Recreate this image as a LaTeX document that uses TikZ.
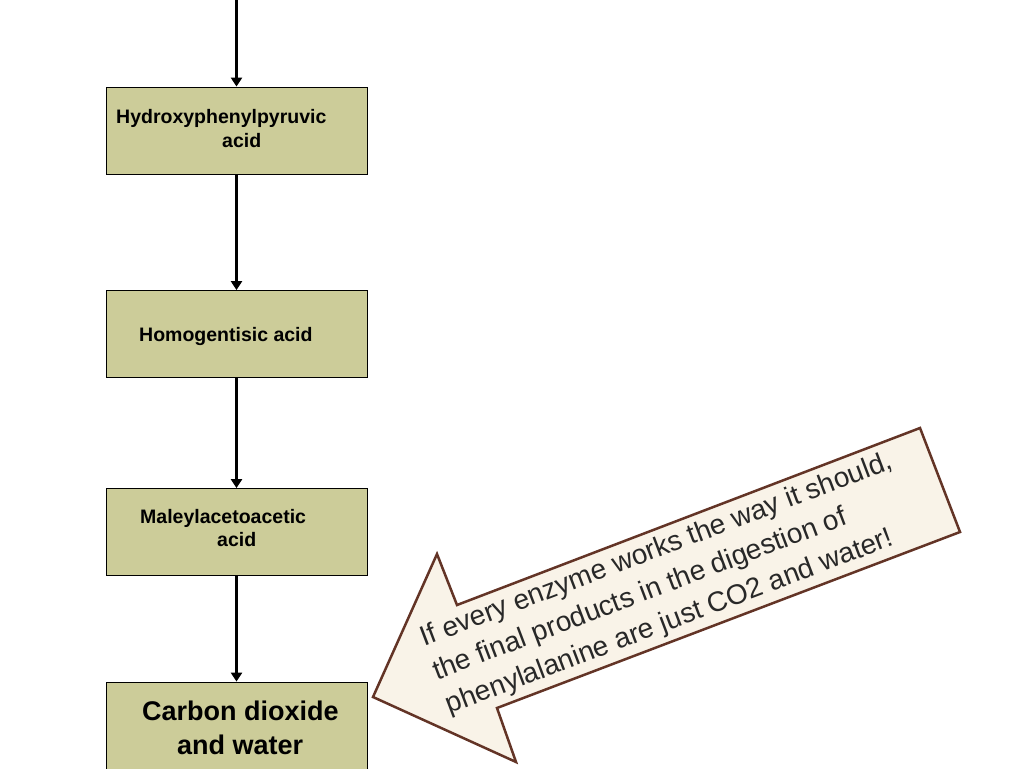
\documentclass[tikz,border=0pt]{standalone}
\usepackage{fontspec}
\setmainfont{Liberation Sans}
\usetikzlibrary{arrows.meta}
\definecolor{boxfill}{RGB}{204,204,153}
\definecolor{callfill}{RGB}{249,243,232}
\definecolor{callline}{RGB}{99,52,38}
\definecolor{calltext}{RGB}{40,40,40}
\begin{document}
\begin{tikzpicture}[x=1pt,y=-1pt,
  stepbox/.style={draw=black, line width=0.8pt, fill=boxfill, minimum width=261pt, minimum height=87pt, inner sep=0pt},
  lbl/.style={font=\bfseries\fontsize{19.5}{23}\selectfont, anchor=base west, inner sep=0pt},
  big/.style={font=\bfseries\fontsize{27}{32}\selectfont, anchor=base west, inner sep=0pt},
  flow/.style={line width=3.2pt, -{Triangle[length=9pt,width=11pt]}},
  callout/.style={draw=callline, fill=callfill, line width=2.5pt, line join=miter},
  notetext/.style={font=\fontsize{28}{36}\selectfont, text=calltext, align=left, rotate=20.8, anchor=west, inner sep=0pt}]
\useasboundingbox (0,0) rectangle (1024,768);
\node[stepbox] (b1) at (236.5,130.5) {};
\node[stepbox] (b2) at (236.5,334) {};
\node[stepbox] (b3) at (236.5,532) {};
\node[stepbox, minimum height=92pt] (b4) at (236.5,728) {};
\coordinate (top) at (236.5,-2);
\draw[flow] (top) -- (b1.north);
\draw[flow] (b1.south) -- (b2.north);
\draw[flow] (b2.south) -- (b3.north);
\draw[flow] (b3.south) -- (b4.north);
\node[lbl] (t1a) at (116,123) {Hydroxyphenylpyruvic};
\node[lbl] (t1b) at (222,147) {acid};
\node[lbl] (t2) at (139,341) {Homogentisic acid};
\node[lbl] (t3a) at (140,523) {Maleylacetoacetic};
\node[lbl] (t3b) at (217,546) {acid};
\node[big] (t4a) at (142,720) {Carbon dioxide};
\node[big] (t4b) at (177,754) {and water};
\draw[callout] (373,697) -- (437,554) -- (457,605) -- (920,428) -- (960,532) -- (497,708) -- (516,762) -- cycle;
\node[notetext] (note) at (434.3,673.5) {If every enzyme works the way it should,\\the final products in the digestion of\\phenylalanine are just CO2 and water!};
\end{tikzpicture}
\end{document}
